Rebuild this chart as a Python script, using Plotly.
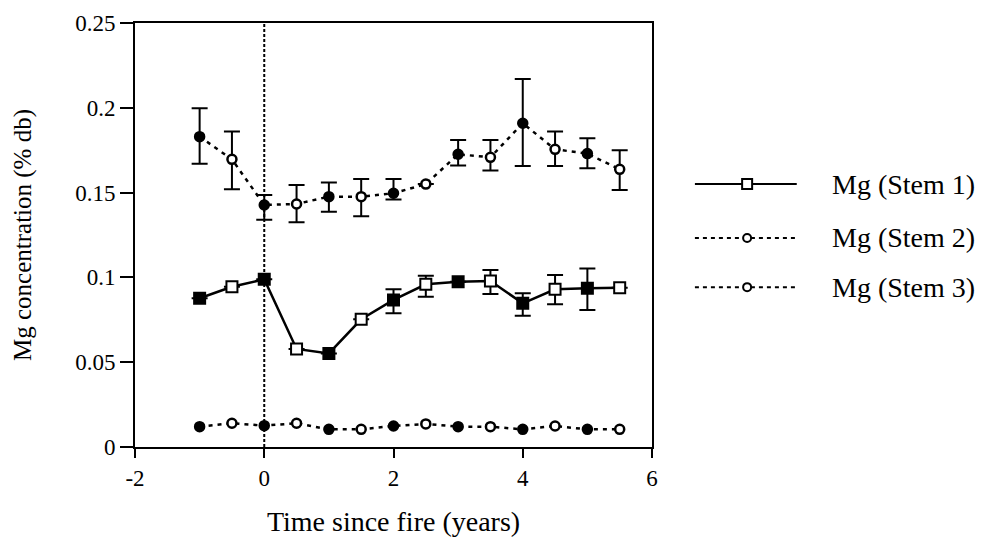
import plotly.graph_objects as go

years = [-1, -0.5, 0, 0.5, 1, 1.5, 2, 2.5, 3, 3.5, 4, 4.5, 5, 5.5]

stem1 = [0.0877, 0.0945, 0.0989, 0.0578, 0.0552, 0.0753, 0.0867, 0.0959, 0.0975, 0.0979, 0.0847, 0.0930, 0.0936, 0.0939]
stem1_up = [None, None, None, None, None, None, 0.0063, 0.0051, None, 0.0065, 0.0059, 0.0084, 0.0117, None]
stem1_dn = [None, None, None, None, None, None, 0.0079, 0.0073, None, 0.0077, 0.0073, 0.0089, 0.0128, None]

stem2 = [0.1830, 0.1696, 0.1427, 0.1433, 0.1476, 0.1476, 0.1496, 0.1550, 0.1726, 0.1708, 0.1909, 0.1755, 0.1730, 0.1637]
stem2_up = [0.0167, 0.0164, 0.0059, 0.0112, 0.0084, 0.0104, 0.0084, None, 0.0084, 0.0102, 0.0261, 0.0105, 0.0090, 0.0113]
stem2_dn = [0.0160, 0.0176, 0.0087, 0.0108, 0.0089, 0.0116, 0.0036, None, 0.0066, 0.0078, 0.0252, 0.0098, 0.0087, 0.0122]

stem3 = [0.0120, 0.0140, 0.0126, 0.0140, 0.0104, 0.0104, 0.0124, 0.0136, 0.0120, 0.0120, 0.0104, 0.0124, 0.0104, 0.0104]

x_ticks = [-2, 0, 2, 4, 6]
y_ticks = [0, 0.05, 0.1, 0.15, 0.2, 0.25]
y_tick_labels = ["0", "0.05", "0.1", "0.15", "0.2", "0.25"]
legend_names = ["Mg (Stem 1)", "Mg (Stem 2)", "Mg (Stem 3)"]

FONT = "Liberation Serif, Times New Roman, serif"
fill = ["#000000" if float(y).is_integer() else "#ffffff" for y in years]

fig = go.Figure()

def err(up, dn):
    return dict(type="data", symmetric=False, array=up, arrayminus=dn,
                color="#000000", thickness=2, width=8)

fig.add_trace(go.Scatter(
    x=years, y=stem2, mode="lines+markers",
    line=dict(color="#000000", width=2.5, dash="4px,5px"),
    marker=dict(symbol="circle", size=9, color=fill, opacity=1,
                line=dict(color="#000000", width=2.5)),
    error_y=err(stem2_up, stem2_dn), showlegend=False))

fig.add_trace(go.Scatter(
    x=years, y=stem1, mode="lines+markers",
    line=dict(color="#000000", width=2.5),
    marker=dict(symbol="square", size=11, color=fill, opacity=1,
                line=dict(color="#000000", width=2)),
    error_y=err(stem1_up, stem1_dn), showlegend=False))

fig.add_trace(go.Scatter(
    x=years, y=stem3, mode="lines+markers",
    line=dict(color="#000000", width=2.5, dash="4px,5px"),
    marker=dict(symbol="circle", size=9, color=fill, opacity=1,
                line=dict(color="#000000", width=2.5)),
    showlegend=False))

# vertical fire line at x = 0
fig.add_shape(type="line", xref="x", yref="paper", x0=0, x1=0, y0=0, y1=1,
              line=dict(color="black", width=2, dash="3px,2px"), layer="below")

# manual legend
row_y = [0.620, 0.493, 0.377]
line_dash = ["solid", "4px,4px", "4px,4px"]
for i, name in enumerate(legend_names):
    fig.add_shape(type="line", xref="paper", yref="paper",
                  x0=1.083, x1=1.280, y0=row_y[i], y1=row_y[i],
                  line=dict(color="black", width=2, dash=line_dash[i]))
    shape_type = "rect" if i == 0 else "circle"
    half = 5 if i == 0 else 4
    fig.add_shape(type=shape_type, xref="paper", yref="paper",
                  xsizemode="pixel", ysizemode="pixel",
                  xanchor=1.184, yanchor=row_y[i],
                  x0=-half, x1=half, y0=-half, y1=half,
                  fillcolor="white", line=dict(color="black", width=2))
    fig.add_annotation(x=1.344, y=row_y[i], xref="paper", yref="paper",
                       text=name, showarrow=False, xanchor="left", yanchor="middle",
                       font=dict(family=FONT, size=28, color="black"))

axis_common = dict(showline=True, linecolor="black", linewidth=2, mirror=True,
                   ticks="outside", tickwidth=2, tickcolor="black",
                   showgrid=False, zeroline=False, automargin=False,
                   tickfont=dict(family=FONT, size=23, color="black"))

fig.update_xaxes(range=[-2, 6], tickvals=x_ticks, ticktext=[str(v) for v in x_ticks],
                 ticklen=9,
                 title=dict(text="Time since fire (years)", standoff=30,
                            font=dict(family=FONT, size=28, color="black")),
                 **axis_common)
fig.update_yaxes(range=[0, 0.25], tickvals=y_ticks, ticktext=y_tick_labels,
                 ticklen=13,
                 title=dict(text="Mg concentration (% db)", standoff=36,
                            font=dict(family=FONT, size=25, color="black")),
                 **axis_common)

fig.update_layout(width=990, height=537, plot_bgcolor="white", paper_bgcolor="white",
                  margin=dict(l=135, r=338, t=23, b=90), showlegend=False)

fig.write_html("out.html")
